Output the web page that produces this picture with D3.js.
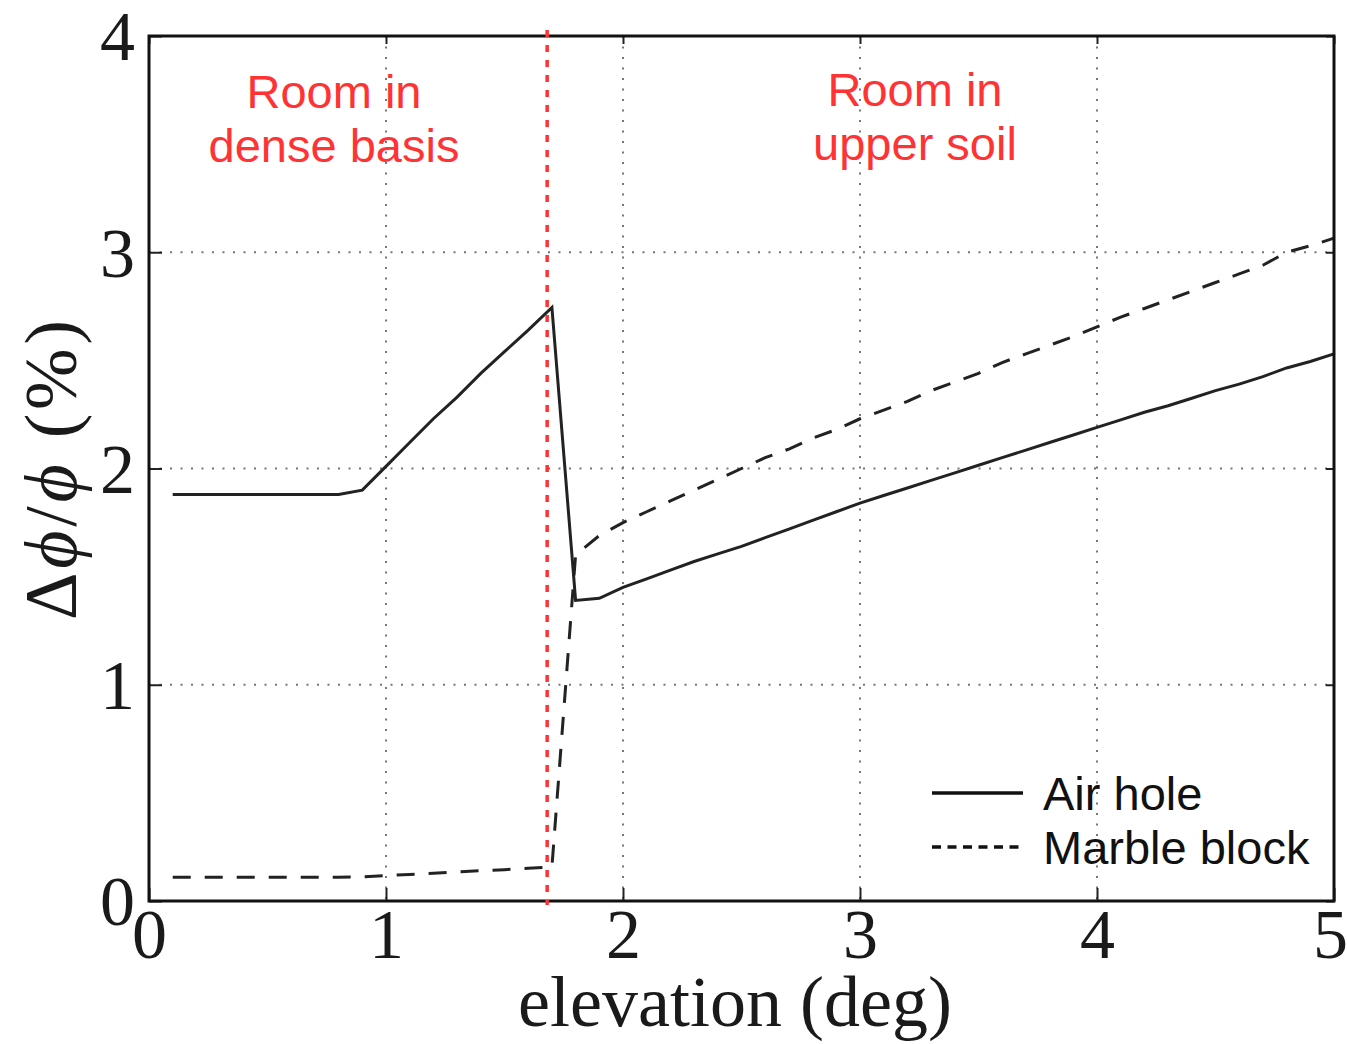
<!DOCTYPE html>
<html>
<head>
<meta charset="utf-8">
<script src="https://cdn.jsdelivr.net/npm/d3@7"></script>
<style>
html,body{margin:0;padding:0;background:#fff;}
svg{display:block;}
</style>
</head>
<body>
<svg id="chart" width="1347" height="1044"></svg>
<script>
// ---- data ----
const xTicks = [0, 1, 2, 3, 4, 5];
const yTicks = [0, 1, 2, 3, 4];
const airX = [0.1, 0.2, 0.3, 0.4, 0.5, 0.6, 0.7, 0.8, 0.9, 1.0, 1.1, 1.2, 1.3, 1.4, 1.5, 1.6, 1.7,
  1.8, 1.9, 2.0, 2.1, 2.2, 2.3, 2.4, 2.5, 2.6, 2.7, 2.8, 2.9, 3.0, 3.1, 3.2, 3.3, 3.4, 3.5, 3.6, 3.7, 3.8, 3.9,
  4.0, 4.1, 4.2, 4.3, 4.4, 4.5, 4.6, 4.7, 4.8, 4.9, 5.0];
const airY = [1.88, 1.88, 1.88, 1.88, 1.88, 1.88, 1.88, 1.88, 1.90, 2.01, 2.12, 2.23, 2.33, 2.44, 2.54, 2.64, 2.745,
  1.39, 1.40, 1.45, 1.49, 1.53, 1.57, 1.605, 1.64, 1.68, 1.72, 1.76, 1.80, 1.84, 1.875, 1.91, 1.945, 1.98, 2.015, 2.05, 2.085, 2.12, 2.155,
  2.19, 2.225, 2.26, 2.29, 2.325, 2.36, 2.39, 2.425, 2.465, 2.495, 2.53];
const marbleX = [0.1, 0.2, 0.3, 0.4, 0.5, 0.6, 0.7, 0.8, 0.9, 1.0, 1.1, 1.2, 1.3, 1.4, 1.5, 1.6, 1.7,
  1.8, 1.9, 2.0, 2.1, 2.2, 2.3, 2.4, 2.5, 2.6, 2.7, 2.8, 2.9, 3.0, 3.1, 3.2, 3.3, 3.4, 3.5, 3.6, 3.7, 3.8, 3.9,
  4.0, 4.1, 4.2, 4.3, 4.4, 4.5, 4.6, 4.7, 4.8, 4.9, 5.0];
const marbleY = [0.11, 0.11, 0.11, 0.11, 0.11, 0.11, 0.11, 0.11, 0.112, 0.117, 0.123, 0.128, 0.134, 0.14, 0.145, 0.151, 0.157,
  1.60, 1.69, 1.75, 1.80, 1.85, 1.90, 1.95, 2.00, 2.05, 2.09, 2.14, 2.18, 2.23, 2.27, 2.31, 2.36, 2.40, 2.44, 2.49, 2.53, 2.57, 2.61,
  2.655, 2.70, 2.74, 2.78, 2.82, 2.86, 2.90, 2.94, 3.00, 3.03, 3.065];
const seriesNames = ["Air hole", "Marble block"];
const boundaryX = 1.68;
const regionLabels = [["Room in", "dense basis"], ["Room in", "upper soil"]];
const xLabel = "elevation (deg)";
// y label pieces: [text, italic?]
const yLabelParts = [["Δ", false], ["ϕ", true], ["/", false], ["ϕ", true], [" (%)", false]];

// ---- layout ----
const L = 149, R = 1334, T = 36, B = 901;
const svg = d3.select("#chart");
const x = d3.scaleLinear().domain([0, 5]).range([L, R]);
const y = d3.scaleLinear().domain([0, 4]).range([B, T]);
const serif = "'Liberation Serif','DejaVu Serif',serif";
const sans = "'Liberation Sans',Arial,sans-serif";
const red = "#ff3333";

// grid
const grid = svg.append("g");
grid.selectAll("line.gx").data(xTicks.slice(1, -1)).enter().append("line")
  .attr("x1", d => x(d)).attr("x2", d => x(d)).attr("y1", T).attr("y2", B)
  .attr("stroke", "#777").attr("stroke-width", 2).attr("stroke-dasharray", "2,8.5");
grid.selectAll("line.gy").data(yTicks.slice(1, -1)).enter().append("line")
  .attr("y1", d => y(d)).attr("y2", d => y(d)).attr("x1", L).attr("x2", R)
  .attr("stroke", "#777").attr("stroke-width", 2).attr("stroke-dasharray", "2,8.5");

// axes (ticks inward)
const tk = 13;
const axB = svg.append("g").attr("transform", `translate(0,${B})`)
  .call(d3.axisBottom(x).tickValues(xTicks).tickSize(-tk).tickPadding(14).tickFormat(d3.format("d")));
const axT = svg.append("g").attr("transform", `translate(0,${T})`)
  .call(d3.axisTop(x).tickValues(xTicks).tickSize(-8).tickFormat(""));
const axL = svg.append("g").attr("transform", `translate(${L},0)`)
  .call(d3.axisLeft(y).tickValues(yTicks).tickSize(-tk).tickPadding(14).tickFormat(d3.format("d")));
const axR = svg.append("g").attr("transform", `translate(${R},0)`)
  .call(d3.axisRight(y).tickValues(yTicks).tickSize(-8).tickFormat(""));
[axB, axT, axL, axR].forEach(a => {
  a.select(".domain").remove();
  a.selectAll(".tick line").attr("stroke", "#222").attr("stroke-width", 2);
  a.selectAll("text").attr("font-family", serif).attr("font-size", 70).attr("fill", "#1a1a1a");
});
axB.selectAll("text").attr("dy", "0.7em").attr("y", 8);
axB.selectAll(".tick").filter(d => d === 5).select("text").attr("x", -4);
axL.selectAll("text").attr("dy", "0.34em").attr("x", -14);

// lines
const line = d3.line().x(d => x(d[0])).y(d => y(d[1]));
const air = airX.map((v, i) => [v, airY[i]]);
const marble = marbleX.map((v, i) => [v, marbleY[i]]);
svg.append("path").datum(marble).attr("d", line).attr("fill", "none")
  .attr("stroke", "#222").attr("stroke-width", 3).attr("stroke-dasharray", "18,14");
svg.append("path").datum(air).attr("d", line).attr("fill", "none")
  .attr("stroke", "#222").attr("stroke-width", 3).attr("stroke-linejoin", "miter");

// frame
svg.append("rect").attr("x", L).attr("y", T).attr("width", R - L).attr("height", B - T)
  .attr("fill", "none").attr("stroke", "#111").attr("stroke-width", 3);

// boundary line
svg.append("line").attr("x1", x(boundaryX)).attr("x2", x(boundaryX)).attr("y1", T - 6).attr("y2", B + 4)
  .attr("stroke", red).attr("stroke-width", 3.5).attr("stroke-dasharray", "7,8");

// region labels
const regionPos = [[334, 108, 162], [915, 106, 160]];
regionLabels.forEach((lines, i) => {
  const t = svg.append("text").attr("font-family", sans).attr("font-size", 47)
    .attr("fill", red).attr("text-anchor", "middle");
  lines.forEach((s, j) => {
    t.append("tspan").attr("x", regionPos[i][0]).attr("y", regionPos[i][1 + j]).text(s);
  });
});

// legend
const lg = svg.append("g");
const dashes = [null, "9,6.5"];
seriesNames.forEach((name, i) => {
  const yy = 793 + i * 54;
  lg.append("line").attr("x1", 932).attr("x2", 1023).attr("y1", yy).attr("y2", yy)
    .attr("stroke", "#111").attr("stroke-width", 3.5)
    .attr("stroke-dasharray", dashes[i]);
  lg.append("text").attr("x", 1043).attr("y", yy + 17).attr("font-family", sans)
    .attr("font-size", 47).attr("fill", "#111").text(name);
});

// axis labels
svg.append("text").attr("x", 735).attr("y", 1026).attr("text-anchor", "middle")
  .attr("font-family", serif).attr("font-size", 72).attr("fill", "#1a1a1a").text(xLabel);
const yl = svg.append("text").attr("transform", "translate(76,470) rotate(-90)").attr("text-anchor", "middle")
  .attr("font-family", serif).attr("font-size", 74).attr("fill", "#1a1a1a")
  .attr("textLength", 300).attr("lengthAdjust", "spacing");
yLabelParts.forEach(([s, it]) => {
  yl.append("tspan").attr("font-style", it ? "italic" : "normal").text(s);
});
</script>
</body>
</html>
